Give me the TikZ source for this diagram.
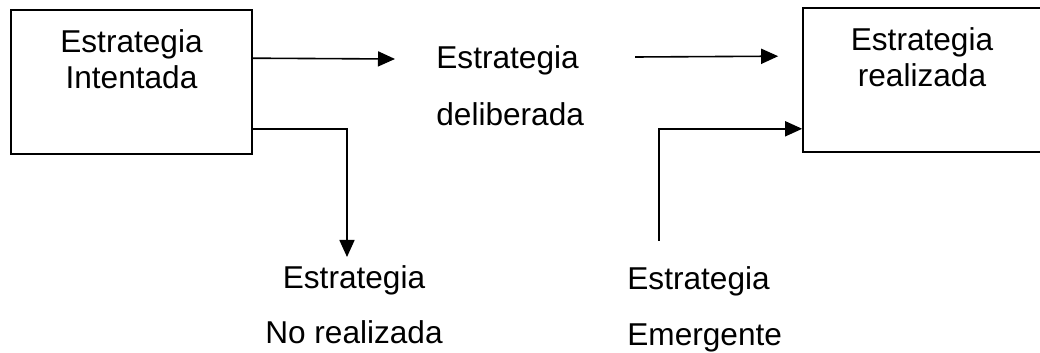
\documentclass[tikz,border=0pt]{standalone}
\usepackage{fontspec}
\setmainfont{Liberation Sans}
\usetikzlibrary{arrows.meta}

\tikzset{
  box/.style={draw, line width=0.8pt, minimum height=72pt, inner sep=0pt},
  txt/.style={inner sep=0pt, font=\fontsize{15.8}{18}\selectfont},
  arr/.style={line width=0.8pt, -{Triangle[length=8.5pt,width=7.5pt]}}
}

\begin{document}
\begin{tikzpicture}[x=0.5pt, y=-0.5pt]
\useasboundingbox (0,0) rectangle (1040,353);

\node[box, minimum width=120.5pt] (intended) at (131.5,82) {};
\node[box, minimum width=122pt] (realized) at (925,80) {};

\node[txt, anchor=north, align=center] (intendedTxt) at (131.5,29.5) {Estrategia\\Intentada};
\node[txt, anchor=north, align=center] (realizedTxt) at (922,27.5) {Estrategia\\realizada};
\node[txt, anchor=north west, align=left] (deliberate) at (436,45.5) {Estrategia\\[10.5pt]deliberada};
\node[txt, anchor=north, align=center] (unrealized) at (354,265.5) {Estrategia\\[9.5pt]No realizada};
\node[txt, anchor=north west, align=left] (emergent) at (627,266.5) {Estrategia\\[10pt]Emergente};

\coordinate (delibTip) at (395,59);
\coordinate (delibTail) at (635,57);
\coordinate (unrealTip) at (347,257);
\coordinate (emergeFoot) at (659,241);

\draw[arr] ([yshift=-24.5pt]intended.north east) -- (delibTip);
\draw[arr] (delibTail) -- ([xshift=-12pt,yshift=-24.5pt]realized.north west);
\draw[arr] ([yshift=13pt]intended.south east) -| (unrealTip);
\draw[arr] (emergeFoot) |- ([yshift=12pt]realized.south west);
\end{tikzpicture}
\end{document}
